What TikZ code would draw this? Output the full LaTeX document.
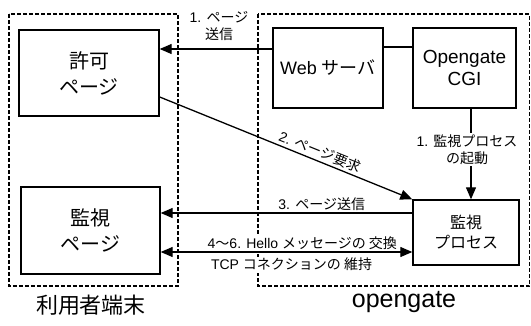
\documentclass[tikz,border=0pt]{standalone}
\usepackage{fontspec}
\setmainfont{Liberation Sans}
\newfontfamily\jp{Noto Sans CJK JP}
\usetikzlibrary{arrows.meta}
\begin{document}
\begin{tikzpicture}[x=1pt,y=-1pt,
  box/.style 2 args={draw, line width=1.4pt, minimum width=#1pt, minimum height=#2pt, inner sep=0pt, align=center},
  dsh/.style={draw, line width=1.3pt, dash pattern=on 4pt off 2pt},
  ln/.style={line width=1.3pt},
  arr/.style={line width=1.3pt, -{Triangle[length=12pt,width=10pt]}},
  darr/.style={line width=1.3pt, {Triangle[length=12pt,width=10pt]}-{Triangle[length=12pt,width=10pt]}},
  lbl/.style={font=\fontsize{14}{17}\selectfont, align=center, inner sep=1.5pt}]
\useasboundingbox (0,0) rectangle (531,325);
\draw[dsh] (9,14) rectangle (178,286);
\draw[dsh] (258,14) rectangle (529.5,286);
\node[box={140}{86}, font=\fontsize{20}{26}\selectfont\jp] (kyoka) at (89,73) {許可\\ページ};
\node[box={139}{87}, font=\fontsize{20}{26}\selectfont\jp] (kanshi) at (90.5,230.5) {監視\\ページ};
\node[box={110}{80}, font=\fontsize{18}{20}\selectfont] (web) at (328,68) {Web {\jp サーバ}};
\node[box={103}{80}, font=\fontsize{19}{22}\selectfont] (cgi) at (464.5,68) {Opengate\\CGI};
\node[box={106}{65}, font=\fontsize{16}{20}\selectfont\jp] (proc) at (466,232.5) {監視\\プロセス};
\draw[arr] (web.west|-0,49) -- (kyoka.east|-0,49);
\node[lbl] (l1) at (219,26) {1. {\jp ページ}\\{\jp 送信}};
\draw[ln] (web.east|-0,47) -- (cgi.west|-0,47);
\draw[arr] (cgi.south-|471,0) -- (proc.north-|471,0)
  node[lbl, fill=white, pos=0.45, xshift=-4pt] {1. {\jp 監視プロセス}\\{\jp の起動}};
\draw[arr] (kyoka.east|-0,97) -- (proc.north west)
  node[lbl, sloped, above=1pt, pos=0.62] {2. {\jp ページ要求}};
\draw[arr] (proc.west|-0,213) -- (kanshi.east|-0,213)
  node[lbl, above, pos=0.36] {3. {\jp ページ送信}};
\draw[darr] (kanshi.east|-0,252) -- (proc.west|-0,252)
  node[lbl, fill=white, above, pos=0.563] {4{\jp ～}6. Hello {\jp メッセージの 交換}}
  node[lbl, fill=white, below=4pt, pos=0.52] {TCP {\jp コネクションの 維持}};
\node[font=\fontsize{22}{26}\selectfont\jp] (user) at (91,305) {利用者端末};
\node[font=\fontsize{25}{28}\selectfont] (og) at (404,302) {opengate};
\end{tikzpicture}
\end{document}
